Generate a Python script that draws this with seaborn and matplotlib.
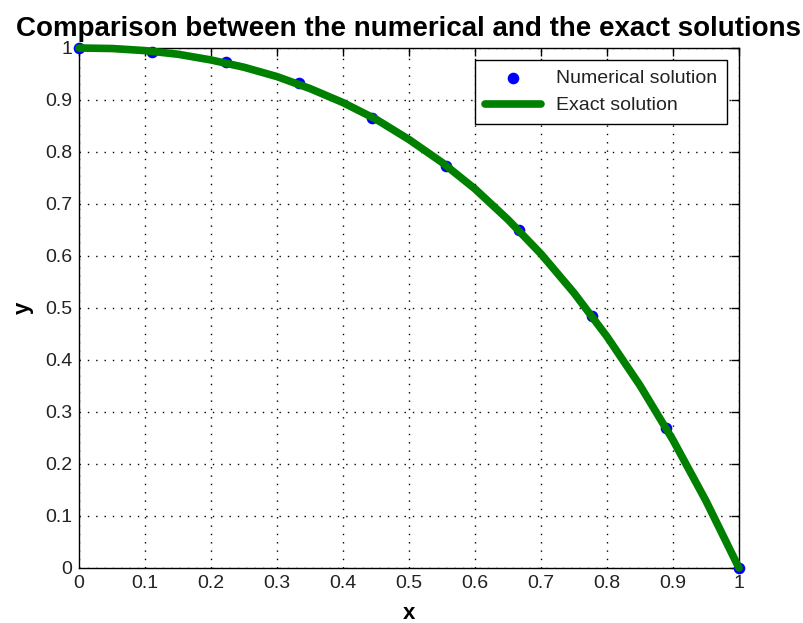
import numpy as np
import pandas as pd
import seaborn as sns
import matplotlib.pyplot as plt

# numerical points
x_num = [0, 1/9, 2/9, 3/9, 4/9, 5/9, 6/9, 7/9, 8/9, 1]
y_num = [1.0, 0.992, 0.973, 0.932, 0.866, 0.773, 0.650, 0.484, 0.270, 0.0]

# exact solution curve
x_ex = [0, 0.05, 0.1, 0.15, 0.2, 0.25, 0.3, 0.35, 0.4, 0.45, 0.5,
        0.55, 0.6, 0.65, 0.7, 0.75, 0.8, 0.85, 0.9, 0.95, 1.0]
y_ex = [1.0, 0.999, 0.995, 0.988, 0.977, 0.963, 0.945, 0.922, 0.895, 0.863, 0.824,
        0.780, 0.729, 0.670, 0.604, 0.529, 0.445, 0.351, 0.246, 0.129, 0.0]

xticks = [0, 0.1, 0.2, 0.3, 0.4, 0.5, 0.6, 0.7, 0.8, 0.9, 1]
xtick_labels = ['0', '0.1', '0.2', '0.3', '0.4', '0.5', '0.6', '0.7', '0.8', '0.9', '1']
yticks = xticks
ytick_labels = xtick_labels

df_num = pd.DataFrame({'x': x_num, 'y': y_num})
df_ex = pd.DataFrame({'x': x_ex, 'y': y_ex})

sns.set_theme(style='white')
plt.rcParams['font.family'] = ['Liberation Sans', 'DejaVu Sans']
plt.rcParams['xtick.direction'] = 'in'
plt.rcParams['ytick.direction'] = 'in'

fig = plt.figure(figsize=(8.04, 6.23), dpi=100)
ax = fig.add_axes([79/804, 1 - 568/623, 660/804, 520/623])

sns.scatterplot(data=df_num, x='x', y='y', ax=ax, color='#0000ff', marker='o',
                s=70, edgecolor='#0000ff', linewidth=0, label='Numerical solution',
                clip_on=False, zorder=3)
sns.lineplot(data=df_ex, x='x', y='y', ax=ax, color='#008000', linewidth=5.5,
             label='Exact solution', zorder=4, clip_on=False)

ax.set_xlim(0, 1)
ax.set_ylim(0, 1)
ax.set_xticks(xticks)
ax.set_xticklabels(xtick_labels)
ax.set_yticks(yticks)
ax.set_yticklabels(ytick_labels)
ax.tick_params(axis='both', labelsize=14, colors='black', length=6, width=1,
               top=True, right=True, pad=5, labelcolor='#222222')

ax.grid(True, color='black', linestyle=(0, (1, 5)), linewidth=1)
for sp in ax.spines.values():
    sp.set_color('black')
    sp.set_linewidth(1)

ax.set_xlabel('x', fontsize=16, fontweight='bold', labelpad=8, color='black')
ax.set_ylabel('y', fontsize=16, fontweight='bold', labelpad=8, color='black')
ax.set_title('Comparison between the numerical and the exact solutions',
             fontsize=20, fontweight='bold', pad=9, color='black')

leg = ax.legend(loc='upper right', fontsize=14, frameon=True, fancybox=False,
                edgecolor='black', framealpha=1, handlelength=2.9,
                borderaxespad=0.6, borderpad=0.5, labelspacing=0.5)
leg.get_frame().set_linewidth(1)
for t in leg.get_texts():
    t.set_color('#222222')

fig.savefig('out.png', dpi=100)
